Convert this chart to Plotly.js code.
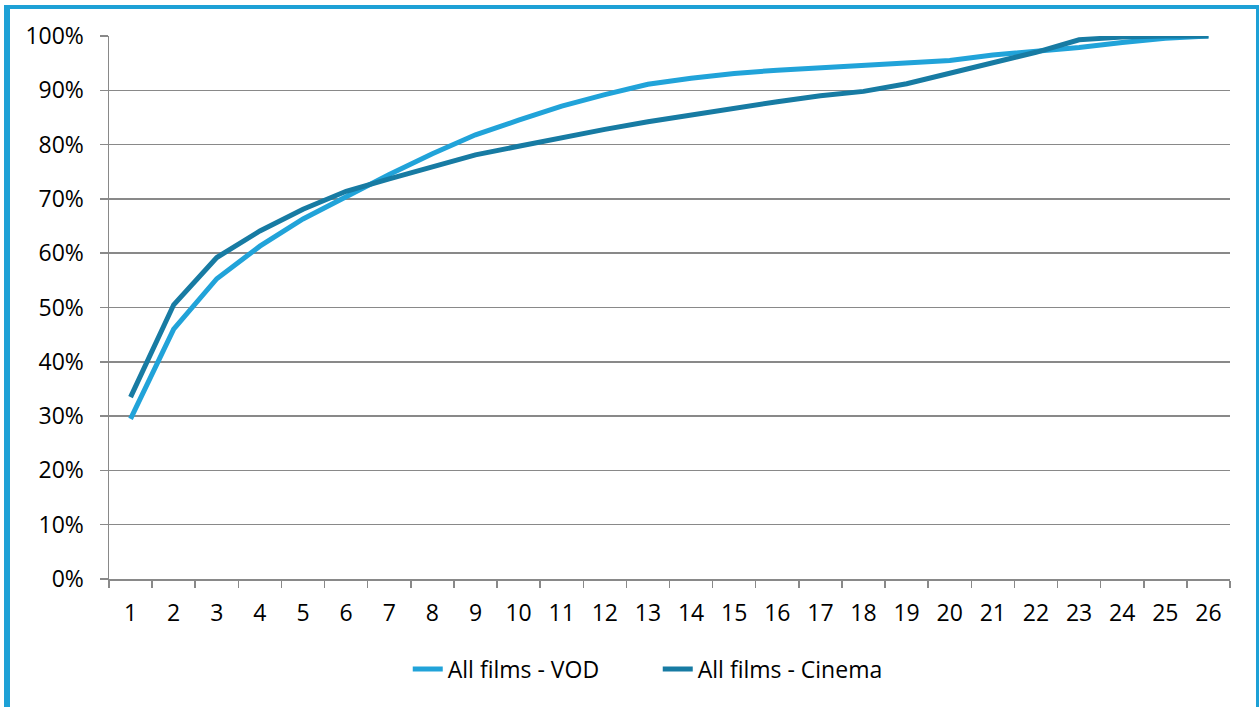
<!DOCTYPE html>
<html>
<head>
<meta charset="utf-8">
<script src="https://cdn.plot.ly/plotly-3.0.1.min.js"></script>
<style>
  html, body { margin: 0; padding: 0; background: #ffffff; }
  #chart { position: absolute; left: 0; top: 0; width: 1260px; height: 707px; }
  #frame { position: absolute; left: 4px; top: 5px; width: 1246px; height: 720px;
           border-left: 6px solid #1ea1d6; border-top: 4px solid #1ea1d6; border-right: 3px solid #1ea1d6;
           pointer-events: none; }
</style>
</head>
<body>
<div id="chart"></div>
<div id="frame"></div>
<script>
const categories = ["1","2","3","4","5","6","7","8","9","10","11","12","13","14","15","16","17","18","19","20","21","22","23","24","25","26"];
const vodValues = [0.295, 0.46, 0.553, 0.613, 0.663, 0.705, 0.745, 0.783, 0.818, 0.845, 0.871, 0.892, 0.911, 0.922, 0.931, 0.937, 0.942, 0.946, 0.950, 0.955, 0.965, 0.971, 0.979, 0.988, 0.996, 1.0];
const cinemaValues = [0.335, 0.505, 0.592, 0.641, 0.681, 0.714, 0.737, 0.760, 0.781, 0.797, 0.813, 0.828, 0.842, 0.855, 0.867, 0.879, 0.890, 0.898, 0.912, 0.932, 0.951, 0.970, 0.993, 0.998, 1.0, 1.0];
const seriesNames = ["All films - VOD", "All films - Cinema"];

const font = "Open Sans, Noto Sans, sans-serif";

const traces = [
  { x: categories, y: vodValues, name: seriesNames[0], type: "scatter", mode: "lines",
    line: { color: "#21a3d9", width: 5 } },
  { x: categories, y: cinemaValues, name: seriesNames[1], type: "scatter", mode: "lines",
    line: { color: "#177ba3", width: 5 } }
];

const layout = {
  width: 1260, height: 707,
  margin: { l: 109, r: 30, t: 36, b: 128 },
  paper_bgcolor: "#ffffff", plot_bgcolor: "#ffffff",
  font: { family: font, size: 23, color: "#000000" },
  showlegend: true,
  legend: { orientation: "h", x: 0.2665, xanchor: "left", y: -0.166, yanchor: "middle",
            entrywidth: 205, entrywidthmode: "pixels",
            font: { family: font, size: 23, color: "#000000" }, tracegroupgap: 0 },
  xaxis: { type: "category", tickson: "boundaries", ticks: "outside", ticklen: 7, tickwidth: 1.5,
           tickcolor: "#898989", showline: true, linecolor: "#898989", linewidth: 1.5,
           showgrid: false, zeroline: false, range: [-0.5, 25.5], ticklabelstandoff: 13,
           tickfont: { family: font, size: 23, color: "#000000" } },
  yaxis: { range: [0, 1], dtick: 0.1, tick0: 0, tickformat: ".0%", ticks: "outside", ticklen: 8,
           tickwidth: 1.5, tickcolor: "#898989", showline: true, linecolor: "#898989", linewidth: 1.5,
           showgrid: true, gridcolor: "#898989", gridwidth: 1.5, zeroline: false,
           ticklabelstandoff: 11,
           tickfont: { family: font, size: 23, color: "#000000" } }
};

Plotly.newPlot("chart", traces, layout, { displayModeBar: false, staticPlot: true });
</script>
</body>
</html>
